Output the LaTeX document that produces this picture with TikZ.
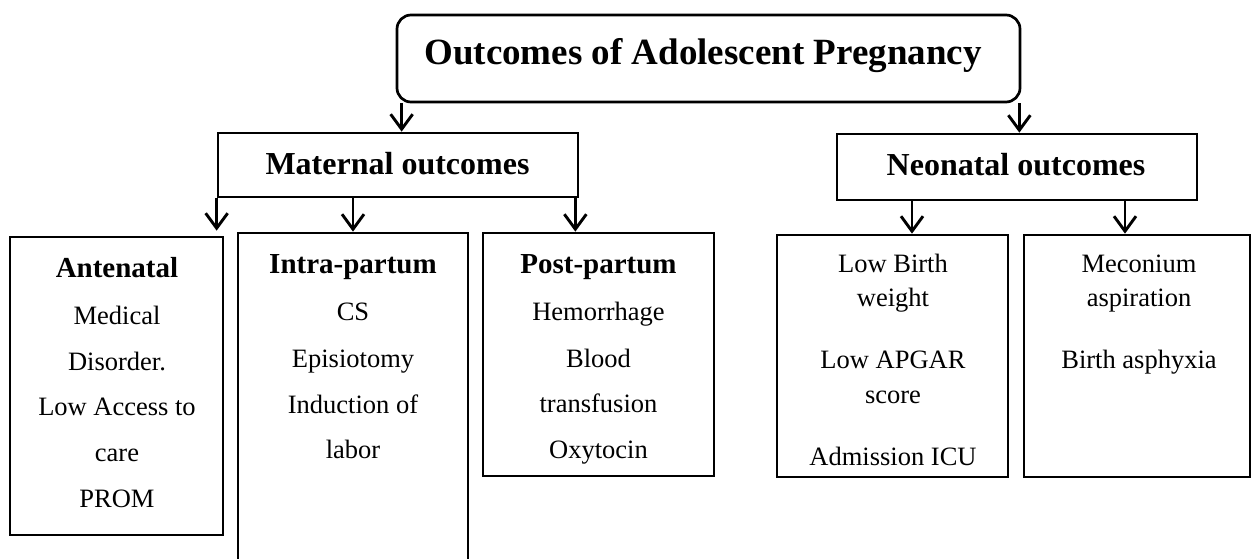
\documentclass[tikz,border=0pt]{standalone}
\usepackage{fontspec}
\setmainfont{Liberation Serif}
\usetikzlibrary{arrows.meta}
\begin{document}
\begin{tikzpicture}[x=1pt,y=-1pt,
  box/.style={draw,line width=2.7pt,rectangle,inner sep=0pt},
  arr/.style={line width=2.9pt,-{Straight Barb[length=15pt,width=22pt]}},
  ttl/.style={font=\fontsize{37}{42}\selectfont\bfseries,anchor=base,inner sep=0pt},
  lvl/.style={font=\fontsize{32}{38}\selectfont\bfseries,anchor=base,inner sep=0pt},
  hd/.style={font=\fontsize{29}{34}\selectfont\bfseries,anchor=base,inner sep=0pt},
  bd/.style={font=\fontsize{26.5}{30}\selectfont,anchor=base,inner sep=0pt}]
\useasboundingbox (0,0) rectangle (1254,559);
\clip (0,0) rectangle (1254,559);
% boxes
\node[box,rounded corners=14pt,minimum width=623pt,minimum height=87pt] (title) at (708.5,58.5) {};
\node[box,minimum width=360pt,minimum height=64pt] (maternal) at (398,165) {};
\node[box,minimum width=360pt,minimum height=66pt] (neonatal) at (1017,167) {};
\node[box,minimum width=213pt,minimum height=298pt] (ante) at (116.5,386) {};
\node[box,minimum width=230pt,minimum height=360pt] (intra) at (353,413) {};
\node[box,minimum width=231pt,minimum height=243pt] (post) at (598.5,354.5) {};
\node[box,minimum width=231pt,minimum height=242pt] (lbw) at (892.5,356) {};
\node[box,minimum width=226pt,minimum height=242pt] (mec) at (1137,356) {};
% texts
\node[ttl] (ttltext) at (703,65) {Outcomes of Adolescent Pregnancy};
\node[lvl] (mattext) at (397.5,175) {Maternal outcomes};
\node[lvl] (neotext) at (1016,176) {Neonatal outcomes};
\node[hd] (a0) at (117,277) {Antenatal};
\node[bd] (a1) at (117,324) {Medical};
\node[bd] (a2) at (117,370) {Disorder.};
\node[bd] (a3) at (117,415) {Low Access to};
\node[bd] (a4) at (117,461) {care};
\node[bd] (a5) at (117,507) {PROM};
\node[hd] (i0) at (353,273) {Intra-partum};
\node[bd] (i1) at (353,320) {CS};
\node[bd] (i2) at (353,367) {Episiotomy};
\node[bd] (i3) at (353,413) {Induction of};
\node[bd] (i4) at (353,458) {labor};
\node[hd] (p0) at (598.5,273) {Post-partum};
\node[bd] (p1) at (598.5,320) {Hemorrhage};
\node[bd] (p2) at (598.5,367) {Blood};
\node[bd] (p3) at (598.5,412) {transfusion};
\node[bd] (p4) at (598.5,458) {Oxytocin};
\node[bd] (l1) at (893,272) {Low Birth};
\node[bd] (l2) at (893,306) {weight};
\node[bd] (l3) at (893,368) {Low APGAR};
\node[bd] (l4) at (893,403) {score};
\node[bd] (l5) at (893,465) {Admission ICU};
\node[bd] (m1) at (1139,272) {Meconium};
\node[bd] (m2) at (1139,306) {aspiration};
\node[bd] (m3) at (1139,368) {Birth asphyxia};
% connectors
\draw[arr] ([xshift=6pt]title.south west) -- ([xshift=6pt]title.south west |- maternal.north);
\draw[arr] ([xshift=-2pt]title.south east) -- ([xshift=-2pt]title.south east |- neonatal.north);
\draw[arr] (maternal.south west) -- ([yshift=5pt]maternal.south west |- ante.north);
\draw[arr] (intra.north |- maternal.south) -- (intra.north);
\draw[arr] ([xshift=-4pt]maternal.south east) -- ([xshift=-4pt]maternal.south east |- post.north);
\draw[arr] ([xshift=19.5pt]lbw.north |- neonatal.south) -- ([xshift=19.5pt]lbw.north);
\draw[arr] ([xshift=-12pt]mec.north |- neonatal.south) -- ([xshift=-12pt]mec.north);
\end{tikzpicture}
\end{document}
